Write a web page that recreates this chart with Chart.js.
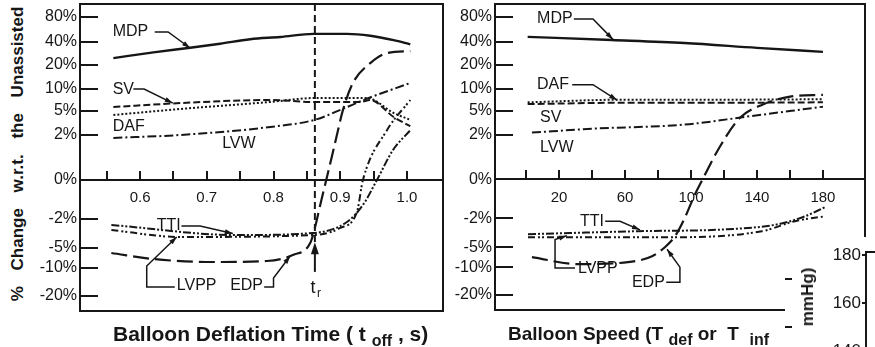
<!DOCTYPE html>
<html>
<head>
<meta charset="utf-8">
<script src="https://cdn.jsdelivr.net/npm/chart.js@4.4.1/dist/chart.umd.min.js"></script>
<style>
  html, body { margin: 0; padding: 0; background: #fff; }
  body { width: 875px; height: 347px; position: relative; overflow: hidden;
         font-family: "Liberation Sans", Arial, Helvetica, sans-serif; color: #161616; }
  .pane { position: absolute; top: 0; }
  #deflPane { left: 0; width: 445px; height: 347px; }
  #speedPane { left: 445px; width: 430px; height: 347px; }
  #insetPane { left: 785px; top: 237px; width: 90px; height: 150px; background: #fff; z-index: 2; }
  .ytitle { position: absolute; left: 18px; top: 154px; transform: translate(-50%, -50%) rotate(-90deg);
            white-space: nowrap; font-weight: bold; font-size: 17px; word-spacing: 11px; line-height: 18px; }
  .xtitle { position: absolute; top: 323px; font-weight: bold; line-height: 22px; white-space: nowrap; overflow: hidden; z-index: 1; }
  .xtitle .sub { position: relative; top: 5px; }
  #deflTitle { left: 113px; font-size: 21px; }
  #deflTitle .sub { font-size: 16px; }
  #speedTitle { left: 508px; width: 266px; font-size: 19px; }
  #speedTitle .sub { font-size: 16px; }
  .inset-title { position: absolute; left: 808px; top: 297px; transform: translate(-50%, -50%) rotate(-90deg);
                 white-space: nowrap; font-weight: bold; font-size: 17px; line-height: 18px; z-index: 3; }
</style>
</head>
<body>
<div class="ytitle">% Change w.r.t. the Unassisted</div>
<div class="pane" id="deflPane"><canvas id="deflChart" width="445" height="347"></canvas></div>
<div class="pane" id="speedPane"><canvas id="speedChart" width="430" height="347"></canvas></div>
<div class="xtitle" id="deflTitle">Balloon Deflation Time ( t <span class="sub">off</span> , s)</div>
<div class="xtitle" id="speedTitle">Balloon Speed (T <span class="sub">def</span> or&nbsp; T&nbsp; <span class="sub">inf</span> , ms)</div>
<div class="pane" id="insetPane"><canvas id="insetChart" width="90" height="150"></canvas></div>
<div class="inset-title">mmHg)</div>
<script>
// percent change axis, shared by both panels
const pctTicks = [-20, -10, -5, -2, 0, 2, 5, 10, 20, 40, 80];

// deflation time panel
const deflTicks = [0.55, 0.6, 0.65, 0.7, 0.75, 0.8, 0.85, 0.9, 0.95, 1.0];
const trTime = 0.862;

const mdpTime = [0.56, 0.62, 0.675, 0.72, 0.765, 0.81, 0.86, 0.91, 0.945, 0.98, 1.005];
const mdpDefl = [26, 31, 35, 38.5, 44.5, 48, 53, 53, 50, 43, 38];
const svTime = [0.56, 0.66, 0.795, 0.862, 0.93, 0.945, 0.98, 1.005];
const svDefl = [5.9, 6.8, 7.5, 7.05, 7.05, 7.5, 4.25, 3.1];
const dafTime = [0.56, 0.66, 0.795, 0.862, 0.94, 0.98, 1.005];
const dafDefl = [4.5, 5.45, 7.05, 7.95, 7.95, 4.75, 3.9];
const lvwTime = [0.56, 0.66, 0.795, 0.862, 0.904, 0.94, 1.005];
const lvwDefl = [1.87, 2.0, 3.0, 3.9, 5.5, 7.8, 12.5];
const edpTime = [0.557, 0.619, 0.709, 0.79, 0.829, 0.855, 0.862, 0.87, 0.879, 0.888, 0.895, 0.904, 0.919, 0.945, 0.97, 1.005];
const edpDefl = [-6.25, -7.75, -8.5, -8.25, -6.75, -4.48, -2.93, -1.28, 0, 1.11, 2.0, 5.2, 12.5, 21.7, 30.4, 32];
const ttiTime = [0.557, 0.745, 0.859, 0.91, 0.934, 0.955, 0.979, 1.005];
const ttiDefl = [-2.62, -3.66, -3.45, -2.31, -1.28, 0, 1.33, 2.6];
const lvppTime = [0.557, 0.66, 0.859, 0.9, 0.925, 0.934, 0.97, 1.005];
const lvppDefl = [-3.14, -3.86, -3.66, -2.93, -1.64, 0, 2.6, 7.5];

// balloon speed panel
const speedTicks = [0, 20, 40, 60, 80, 100, 120, 140, 160, 180];

const mdpSpeed = [1, 52, 96, 140, 180];
const mdpSpd = [48, 43, 39, 34.8, 31.3];
const dafSpeed = [1, 60, 120, 180];
const dafSpd = [6.9, 7.5, 7.5, 7.6];
const svSpeed = [1, 60, 120, 180];
const svSpd = [6.5, 6.8, 6.8, 6.9];
const lvwSpeed = [3.6, 42, 96, 134, 180];
const lvwSpd = [2.25, 2.75, 3.25, 4.25, 5.9];
const edpSpeed = [3.6, 31.5, 61.8, 76.4, 84.2, 90.3, 96.4, 102.4, 107, 117.6, 129.7, 143.6, 160, 180];
const edpSpd = [-7.5, -9.25, -8.75, -7.25, -5, -3.86, -1.95, -0.77, 0, 1.47, 4.1, 6.4, 8.2, 8.6];
const ttiSpeed = [1.2, 67.9, 122, 152.7, 169, 181];
const ttiSpd = [-3.65, -3.34, -3.14, -2.62, -1.9, -1.44];
const lvppSpeed = [1.2, 82, 143, 163, 181];
const lvppSpd = [-3.97, -3.97, -3.34, -2.3, -1.9];

// pressure axis of the neighbouring plot
const mmHgTicks = [130, 140, 150, 160, 170, 180];

const INK = '#161616';
const FONT = '"Liberation Sans", Arial, Helvetica, sans-serif';

// piecewise linear value axis: each break value sits at a fixed fraction of the height
class BrokenScale extends Chart.LinearScale {
  buildTicks() {
    return this.options.tickValues.map(v => ({ value: v }));
  }
  getPixelForValue(value) {
    const b = this.options.breaks, s = this.options.stops;
    let i = 1;
    while (i < b.length - 1 && value > b[i]) i++;
    const t = (value - b[i - 1]) / (b[i] - b[i - 1]);
    return this.getPixelForDecimal(s[i - 1] + t * (s[i] - s[i - 1]));
  }
  getValueForPixel(pixel) {
    const b = this.options.breaks, s = this.options.stops;
    const d = this.getDecimalForPixel(pixel);
    let i = 1;
    while (i < s.length - 1 && d > s[i]) i++;
    const t = (d - s[i - 1]) / (s[i] - s[i - 1]);
    return b[i - 1] + t * (b[i] - b[i - 1]);
  }
}
BrokenScale.id = 'broken';
BrokenScale.defaults = {};
Chart.register(BrokenScale);

const pts = (xs, ys) => xs.map((x, i) => ({ x, y: ys[i] }));

function series(xs, ys, dash, width) {
  return {
    data: pts(xs, ys),
    borderColor: INK,
    borderWidth: width || 2,
    borderDash: dash,
    pointRadius: 0,
    fill: false,
    cubicInterpolationMode: 'monotone'
  };
}

function pctAxis(width) {
  return {
    type: 'broken',
    position: 'left',
    min: -25.36,
    max: 100.8,
    tickValues: pctTicks,
    breaks: [-25.36, -20, -10, -5, -2, 0, 2, 5, 10, 20, 40, 80, 100.8],
    stops: [0, 0.0489, 0.1401, 0.2052, 0.2997, 0.4267, 0.5733, 0.6515, 0.7231, 0.8013, 0.8762, 0.9577, 1],
    afterFit: s => { s.width = width; s.paddingTop = 0; s.paddingBottom = 0; },
    ticks: {
      autoSkip: false,
      padding: 21,
      color: INK,
      font: { family: FONT, size: 16 },
      callback: v => v + '%'
    },
    grid: { drawOnChartArea: false, tickLength: -18, color: INK, lineWidth: 2 },
    border: { display: true, color: INK, width: 2 }
  };
}

function baseAxis(min, max, ticks, label) {
  return {
    type: 'linear',
    min, max,
    position: { y: 0 },
    afterBuildTicks: s => { s.ticks = ticks.map(v => ({ value: v })); },
    afterFit: s => { s.paddingLeft = 0; s.paddingRight = 0; },
    ticks: {
      autoSkip: false,
      maxRotation: 0,
      padding: 19,
      color: INK,
      font: { family: FONT, size: 15 },
      callback: label
    },
    grid: { drawOnChartArea: false, tickLength: -10, color: INK, lineWidth: 2 },
    border: { display: true, color: INK, width: 2 }
  };
}

// box round the plotting area
const frame = {
  id: 'frame',
  afterDraw(chart) {
    const { ctx, chartArea: a } = chart;
    ctx.save();
    ctx.strokeStyle = INK;
    ctx.lineWidth = 2;
    ctx.strokeRect(a.left, a.top, a.right - a.left, a.bottom - a.top);
    ctx.restore();
  }
};

function arrowHead(ctx, x0, y0, x1, y1, len, half) {
  const ang = Math.atan2(y1 - y0, x1 - x0);
  ctx.beginPath();
  ctx.moveTo(x1, y1);
  ctx.lineTo(x1 - len * Math.cos(ang) + half * Math.sin(ang), y1 - len * Math.sin(ang) - half * Math.cos(ang));
  ctx.lineTo(x1 - len * Math.cos(ang) - half * Math.sin(ang), y1 - len * Math.sin(ang) + half * Math.cos(ang));
  ctx.closePath();
  ctx.fill();
}

// curve names with their pointer lines, placed in data units
function callouts(notes) {
  return {
    id: 'callouts',
    afterDatasetsDraw(chart) {
      const { ctx, scales: { x, y } } = chart;
      ctx.save();
      ctx.fillStyle = INK;
      ctx.strokeStyle = INK;
      ctx.lineWidth = 1.5;
      ctx.font = '16px ' + FONT;
      ctx.textAlign = 'left';
      ctx.textBaseline = 'middle';
      notes.forEach(n => {
        ctx.fillText(n.text, x.getPixelForValue(n.at[0]), y.getPixelForValue(n.at[1]));
        if (!n.leader) return;
        const p = n.leader.map(([vx, vy]) => [x.getPixelForValue(vx), y.getPixelForValue(vy)]);
        ctx.beginPath();
        p.forEach(([px, py], i) => (i ? ctx.lineTo(px, py) : ctx.moveTo(px, py)));
        ctx.stroke();
        const [a, b] = p.slice(-2);
        arrowHead(ctx, a[0], a[1], b[0], b[1], 8, 2.5);
      });
      ctx.restore();
    }
  };
}

// recovery time marker: dashed guide, arrow and t_r label
const trMarker = {
  id: 'trMarker',
  afterDatasetsDraw(chart) {
    const { ctx, chartArea: a, scales: { x, y } } = chart;
    const px = x.getPixelForValue(trTime);
    const tip = y.getPixelForValue(-4.4);
    const tail = y.getPixelForValue(-11.4);
    ctx.save();
    ctx.strokeStyle = INK;
    ctx.fillStyle = INK;
    ctx.lineWidth = 2;
    ctx.setLineDash([7, 4]);
    ctx.beginPath();
    ctx.moveTo(px, a.top);
    ctx.lineTo(px, tip);
    ctx.stroke();
    ctx.setLineDash([]);
    ctx.beginPath();
    ctx.moveTo(px, tail);
    ctx.lineTo(px, tip + 6);
    ctx.stroke();
    arrowHead(ctx, px, tail, px, tip, 12, 4);
    const ly = y.getPixelForValue(-17.1);
    ctx.font = '18px ' + FONT;
    ctx.textAlign = 'center';
    ctx.textBaseline = 'middle';
    ctx.fillText('t', px - 2, ly);
    ctx.font = '12px ' + FONT;
    ctx.fillText('r', px + 4, ly + 6);
    ctx.restore();
  }
};

const deflNotes = [
  { text: 'MDP', at: [0.559, 56], leader: [[0.622, 56], [0.642, 56], [0.675, 34.8]] },
  { text: 'SV', at: [0.559, 9.8], leader: [[0.59, 10], [0.606, 10], [0.649, 6.8]] },
  { text: 'DAF', at: [0.559, 3.1] },
  { text: 'LVW', at: [0.723, 1.6] },
  { text: 'TTI', at: [0.625, -2.72], leader: [[0.662, -2.72], [0.69, -2.72], [0.739, -3.5]] },
  { text: 'LVPP', at: [0.655, -16.4], leader: [[0.652, -16.8], [0.61, -16.8], [0.61, -9.5], [0.655, -3.86]] },
  { text: 'EDP', at: [0.735, -16.4], leader: [[0.786, -16.8], [0.8, -16.8], [0.8, -13.6], [0.825, -7.0]] }
];

const speedNotes = [
  { text: 'MDP', at: [6.7, 76.8], leader: [[29, 76.8], [40.6, 76.8], [52.7, 44]] },
  { text: 'DAF', at: [6.7, 11.7], leader: [[28, 11.7], [40.6, 11.7], [55.2, 7.4]] },
  { text: 'SV', at: [8.5, 4.1] },
  { text: 'LVW', at: [8.5, 1.42] },
  { text: 'TTI', at: [32.7, -2.31], leader: [[48, -2.31], [57, -2.31], [69.1, -3.2]] },
  { text: 'LVPP', at: [31.5, -10.7], leader: [[29.7, -10.3], [17.6, -10.3], [17.6, -4.2], [24.8, -3.8]] },
  { text: 'EDP', at: [64.2, -15.7], leader: [[85, -15.4], [93.3, -15.4], [93.3, -10], [85.5, -5.5]] }
];

const common = {
  responsive: false,
  animation: false,
  events: [],
  plugins: { legend: { display: false }, tooltip: { enabled: false } }
};

new Chart(document.getElementById('deflChart'), {
  type: 'line',
  data: {
    datasets: [
      series(mdpTime, mdpDefl, [], 2.4),
      series(svTime, svDefl, [7, 3]),
      series(dafTime, dafDefl, [2, 2]),
      series(lvwTime, lvwDefl, [9, 3, 2, 3]),
      series(edpTime, edpDefl, [16, 6], 2.2),
      series(ttiTime, ttiDefl, [8, 2, 2, 2, 2, 2]),
      series(lvppTime, lvppDefl, [7, 3, 2, 2, 2, 3])
    ]
  },
  options: {
    ...common,
    layout: { padding: { left: 0, right: 2, top: 4, bottom: 36 } },
    scales: {
      y: pctAxis(80),
      x: baseAxis(0.51, 1.054, deflTicks, v => (Math.round(v * 100) % 10 === 0 ? v.toFixed(1) : ''))
    }
  },
  plugins: [frame, callouts(deflNotes), trMarker]
});

new Chart(document.getElementById('speedChart'), {
  type: 'line',
  data: {
    datasets: [
      series(mdpSpeed, mdpSpd, [], 2.4),
      series(dafSpeed, dafSpd, [2, 2]),
      series(svSpeed, svSpd, [7, 3]),
      series(lvwSpeed, lvwSpd, [9, 3, 2, 3]),
      series(edpSpeed, edpSpd, [16, 6], 2.2),
      series(ttiSpeed, ttiSpd, [8, 2, 2, 2, 2, 2]),
      series(lvppSpeed, lvppSpd, [7, 3, 2, 2, 2, 3])
    ]
  },
  options: {
    ...common,
    layout: { padding: { left: 0, right: 10, top: 4, bottom: 37 } },
    scales: {
      y: pctAxis(50),
      x: baseAxis(-18.8, 205.5, speedTicks, v => (v % 40 === 20 ? String(v) : ''))
    }
  },
  plugins: [frame, callouts(speedNotes)]
});

// corner of the neighbouring pressure plot
new Chart(document.getElementById('insetChart'), {
  type: 'line',
  data: { datasets: [] },
  options: {
    ...common,
    layout: { padding: { left: 0, right: 0, top: 15, bottom: 0 } },
    scales: {
      x: {
        type: 'linear', position: 'top', min: 0, max: 1,
        ticks: { display: false },
        grid: { display: false, drawTicks: false },
        border: { display: true, color: INK, width: 2 }
      },
      y: {
        type: 'linear', position: 'left', min: 125, max: 181.25,
        afterBuildTicks: s => { s.ticks = mmHgTicks.filter(v => v % 20 === 0).map(v => ({ value: v })); },
        afterFit: s => { s.width = 81; s.paddingTop = 0; s.paddingBottom = 0; },
        ticks: { padding: 1, color: INK, font: { family: FONT, size: 17 } },
        grid: { drawOnChartArea: false, tickLength: 4, color: INK, lineWidth: 2 },
        border: { display: true, color: INK, width: 2 }
      },
      yMinor: {
        type: 'linear', position: 'left', min: 125, max: 181.25,
        afterBuildTicks: s => { s.ticks = mmHgTicks.filter(v => v % 20 !== 0).map(v => ({ value: v })); },
        afterFit: s => { s.width = 0; s.paddingTop = 0; s.paddingBottom = 0; },
        ticks: { display: false },
        grid: { drawOnChartArea: false, tickLength: -7, color: INK, lineWidth: 2 },
        border: { display: false }
      }
    }
  }
});
</script>
</body>
</html>
